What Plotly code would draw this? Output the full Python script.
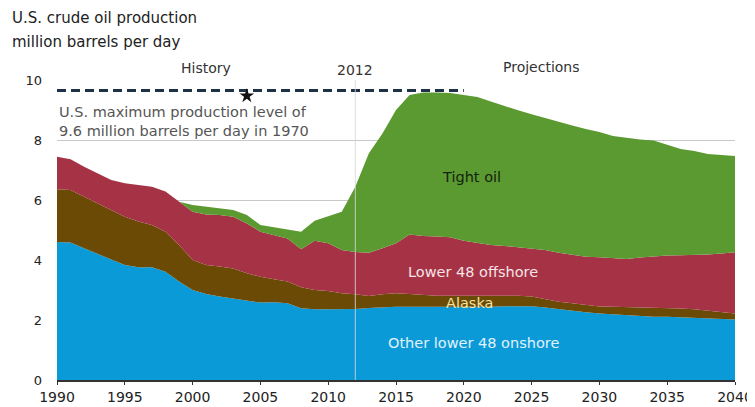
import plotly.graph_objects as go

years = list(range(1990, 2041))

onshore = [4.60, 4.58, 4.39, 4.20, 4.00, 3.83, 3.76, 3.76, 3.61, 3.28,
           3.00, 2.87, 2.78, 2.72, 2.64, 2.58, 2.59, 2.56, 2.39, 2.36,
           2.36, 2.36, 2.37, 2.40, 2.43, 2.44, 2.44, 2.44, 2.43, 2.42,
           2.42, 2.43, 2.44, 2.46, 2.47, 2.46, 2.42, 2.36, 2.31, 2.26,
           2.22, 2.19, 2.17, 2.14, 2.11, 2.11, 2.09, 2.06, 2.04, 2.03, 2.02]

alaska = [1.76, 1.75, 1.72, 1.69, 1.67, 1.61, 1.52, 1.41, 1.33, 1.22,
          1.00, 0.96, 1.00, 1.00, 0.92, 0.86, 0.77, 0.72, 0.70, 0.64,
          0.61, 0.53, 0.49, 0.40, 0.43, 0.45, 0.43, 0.39, 0.38, 0.39,
          0.39, 0.38, 0.37, 0.35, 0.34, 0.32, 0.27, 0.25, 0.25, 0.24,
          0.23, 0.25, 0.26, 0.29, 0.31, 0.29, 0.29, 0.30, 0.27, 0.23, 0.20]

offshore = [1.08, 1.03, 1.00, 1.00, 1.00, 1.12, 1.22, 1.27, 1.34, 1.44,
            1.61, 1.69, 1.72, 1.72, 1.66, 1.50, 1.47, 1.44, 1.27, 1.64,
            1.59, 1.44, 1.41, 1.44, 1.53, 1.67, 1.98, 1.97, 1.97, 1.95,
            1.83, 1.75, 1.69, 1.66, 1.61, 1.61, 1.64, 1.63, 1.61, 1.61,
            1.64, 1.62, 1.60, 1.65, 1.70, 1.75, 1.78, 1.81, 1.87, 1.96, 2.04]

tight = [0, 0, 0, 0, 0, 0, 0, 0, 0, 0,
         0.22, 0.26, 0.22, 0.23, 0.28, 0.23, 0.26, 0.30, 0.58, 0.67,
         0.90, 1.28, 2.17, 3.32, 3.83, 4.44, 4.65, 4.78, 4.80, 4.81,
         4.86, 4.87, 4.78, 4.66, 4.57, 4.47, 4.40, 4.36, 4.31, 4.26,
         4.18, 4.07, 4.04, 3.94, 3.86, 3.70, 3.54, 3.46, 3.35, 3.28, 3.21]

max_level = 9.65
max_line_years = [1990, 2020]
star_year, star_value = 2004, 9.47
split_year = 2012

x_ticks = [1990, 1995, 2000, 2005, 2010, 2015, 2020, 2025, 2030, 2035, 2040]
y_ticks = [0, 2, 4, 6, 8, 10]

FONT = "DejaVu Sans, Liberation Sans, Arial, sans-serif"

series = [
    ("Other lower 48 onshore", onshore, "#0a9ad8"),
    ("Alaska", alaska, "#6b4a06"),
    ("Lower 48 offshore", offshore, "#a63246"),
    ("Tight oil", tight, "#5b9a31"),
]

fig = go.Figure()
for name, vals, col in series:
    fig.add_trace(go.Scatter(
        x=years, y=vals, name=name, mode="lines", stackgroup="one",
        line=dict(width=0, color=col), fillcolor=col, hoverinfo="x+y+name"))

fig.add_trace(go.Scatter(
    x=max_line_years, y=[max_level, max_level], mode="lines",
    line=dict(color="#1e3247", width=3, dash="9px,5px"), showlegend=False))
fig.add_trace(go.Scatter(
    x=[star_year], y=[star_value], mode="markers",
    marker=dict(symbol="star", size=11, color="#111"), showlegend=False))

fig.add_shape(type="line", x0=split_year, x1=split_year, y0=0, y1=10,
              xref="x", yref="y", layer="above",
              line=dict(color="rgba(215,215,215,0.85)", width=1))

ann = []
def add(text, x, y, size=14, color="#333", xref="x", yref="y", xanchor="center", align="center"):
    ann.append(dict(text=text, x=x, y=y, xref=xref, yref=yref, showarrow=False,
                    xanchor=xanchor, yanchor="middle", align=align,
                    font=dict(family=FONT, size=size, color=color)))

add("U.S. crude oil production", -0.07, 1.207, size=15, color="#222",
    xref="paper", yref="paper", xanchor="left", align="left")
add("million barrels per day", -0.07, 1.127, size=15, color="#222",
    xref="paper", yref="paper", xanchor="left", align="left")
add("History", 2001.0, 1.04, size=14, color="#333", yref="paper")
add("2012", 2012.0, 1.033, size=14, color="#333", yref="paper")
add("Projections", 2025.7, 1.043, size=14, color="#333", yref="paper")
add("U.S. maximum production level of<br>9.6 million barrels per day in 1970",
    1990.0, 8.62, size=14.5, color="#555", xanchor="left", align="left")
add("Tight oil", 2020.6, 6.78, size=14.5, color="#14230c")
add("Lower 48 offshore", 2020.7, 3.61, size=14.5, color="#f6e4e6")
add("Alaska", 2020.4, 2.56, size=14.5, color="#f3e2a0")
add("Other lower 48 onshore", 2020.7, 1.22, size=14.5, color="#e2f2fb")

# page body adds an 8px margin; size the figure to fill the rest of the window
fig.update_layout(
    width=747, height=399,
    margin=dict(l=49, r=20, t=72, b=27, autoexpand=False),
    paper_bgcolor="white", plot_bgcolor="white",
    showlegend=False,
    annotations=ann,
    font=dict(family=FONT, color="#222"),
)
fig.update_xaxes(range=[1990, 2040], tickvals=x_ticks, ticks="outside", ticklen=3,
                 tickcolor="#333", showline=True, linecolor="#333", linewidth=1.5,
                 showgrid=False, zeroline=False, automargin=False,
                 tickfont=dict(family=FONT, size=14, color="#222"))
fig.update_yaxes(range=[0, 10], tickvals=y_ticks, showgrid=True, gridcolor="#c8c8c8",
                 gridwidth=1, zeroline=False, showline=False, ticks="",
                 ticklabelstandoff=14, automargin=False,
                 tickfont=dict(family=FONT, size=13, color="#222"))

fig.write_html("out.html")
